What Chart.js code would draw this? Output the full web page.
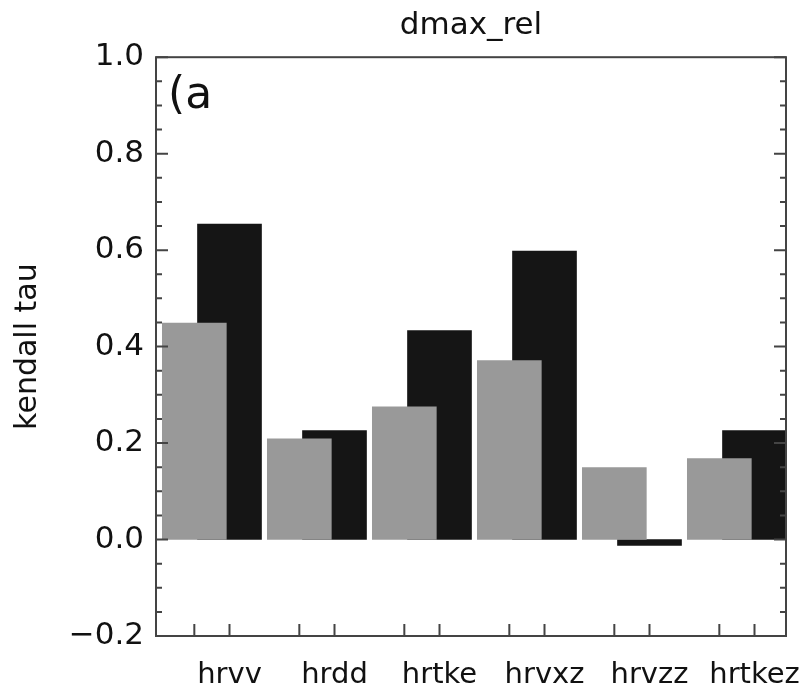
<!DOCTYPE html>
<html lang="en">
<head>
<meta charset="UTF-8" />
<title>dmax_rel</title>
<script src="https://cdn.jsdelivr.net/npm/chart.js"></script>
<style>
  html, body { margin: 0; padding: 0; background: #fff; }
  #wrap { width: 808px; height: 691px; }
</style>
</head>
<body>
<div id="wrap"><canvas id="tauChart"></canvas></div>
<script>
// data
const categories = ["hrvv", "hrdd", "hrtke", "hrvxz", "hrvzz", "hrtkez"];
const tauGrey = [0.449, 0.209, 0.275, 0.371, 0.149, 0.168];
const tauBlack = [0.654, 0.226, 0.433, 0.598, -0.012, 0.226];
const yTickLabels = ["\u22120.2", "0.0", "0.2", "0.4", "0.6", "0.8", "1.0"];
const yMin = -0.2, yMax = 1.0, yMinorStep = 0.05;

// bar centres inside each category slot (slot width = 1)
const greyOffset = 0.365;
const blackOffset = 0.70;

const greyPoints = tauGrey.map((v, i) => ({ x: i + greyOffset, y: v }));
const blackPoints = tauBlack.map((v, i) => ({ x: i + blackOffset, y: v }));

const FONT = "'DejaVu Sans', sans-serif";
const AXIS = "#444";

function isMajor(v) {
  return Math.abs(v * 5 - Math.round(v * 5)) < 1e-6;
}

// frame, inward tick marks and panel tag
const framePlugin = {
  id: "frame",
  afterDatasetsDraw(chart) {
    const { ctx, chartArea: a, scales } = chart;
    ctx.save();
    ctx.strokeStyle = AXIS;
    ctx.lineWidth = 2;
    ctx.strokeRect(a.left, a.top, a.right - a.left, a.bottom - a.top);

    ctx.beginPath();
    scales.y.ticks.forEach((t) => {
      const y = scales.y.getPixelForValue(t.value);
      const len = isMajor(t.value) ? 12 : 6;
      ctx.moveTo(a.left, y);
      ctx.lineTo(a.left + len, y);
      ctx.moveTo(a.right, y);
      ctx.lineTo(a.right - len, y);
    });
    scales.x.ticks.forEach((t) => {
      const x = scales.x.getPixelForValue(t.value);
      ctx.moveTo(x, a.bottom);
      ctx.lineTo(x, a.bottom - 12);
    });
    ctx.stroke();

    ctx.fillStyle = "#111";
    ctx.font = "44px " + FONT;
    ctx.textBaseline = "alphabetic";
    ctx.fillText("(a", a.left + 12, a.top + 51);
    ctx.restore();
  },
};

new Chart(document.getElementById("tauChart"), {
  type: "bar",
  data: {
    datasets: [
      {
        label: "grey",
        data: greyPoints,
        backgroundColor: "#999999",
        borderWidth: 0,
        barThickness: 64,
        grouped: false,
      },
      {
        label: "black",
        data: blackPoints,
        backgroundColor: "#151515",
        borderWidth: 0,
        barThickness: 64,
        grouped: false,
      },
    ],
  },
  options: {
    responsive: true,
    maintainAspectRatio: false,
    animation: false,
    layout: { padding: { left: 0, right: 22, top: 0, bottom: 0 } },
    plugins: {
      legend: { display: false },
      tooltip: { enabled: false },
      title: {
        display: true,
        text: "dmax_rel",
        fullSize: false,
        color: "#111",
        font: { family: FONT, size: 31, weight: "normal" },
        padding: { top: 7, bottom: 13 },
      },
    },
    scales: {
      x: {
        type: "linear",
        min: 0,
        max: categories.length,
        offset: false,
        grid: { display: false, drawTicks: false, offset: false },
        border: { display: false },
        afterBuildTicks(scale) {
          const t = [];
          categories.forEach((c, i) => {
            t.push({ value: i + greyOffset });
            t.push({ value: i + blackOffset });
          });
          scale.ticks = t;
        },
        afterFit(scale) {
          scale.height = 55;
          // last label may run past the frame, as in the original
          scale.paddingLeft = 0;
          scale.paddingRight = 0;
        },
        ticks: {
          autoSkip: false,
          maxRotation: 0,
          padding: 22,
          color: "#111",
          font: { family: FONT, size: 29 },
          callback(value, index) {
            return index % 2 === 1 ? categories[(index - 1) / 2] : "";
          },
        },
      },
      y: {
        min: yMin,
        max: yMax,
        grid: { display: false, drawTicks: false },
        border: { display: false },
        afterBuildTicks(scale) {
          const t = [];
          const n = Math.round((yMax - yMin) / yMinorStep);
          for (let k = 0; k <= n; k++) {
            t.push({ value: +(yMin + k * yMinorStep).toFixed(2) });
          }
          scale.ticks = t;
        },
        afterFit(scale) {
          scale.width = 156;
        },
        ticks: {
          autoSkip: false,
          padding: 12,
          color: "#111",
          font: { family: FONT, size: 31 },
          callback(value) {
            if (!isMajor(value)) return "";
            return yTickLabels[Math.round((value - yMin) / 0.2)];
          },
        },
        title: {
          display: true,
          text: "kendall tau",
          color: "#111",
          font: { family: FONT, size: 30 },
          padding: { top: 10, bottom: 0 },
        },
      },
    },
  },
  plugins: [framePlugin],
});
</script>
</body>
</html>
